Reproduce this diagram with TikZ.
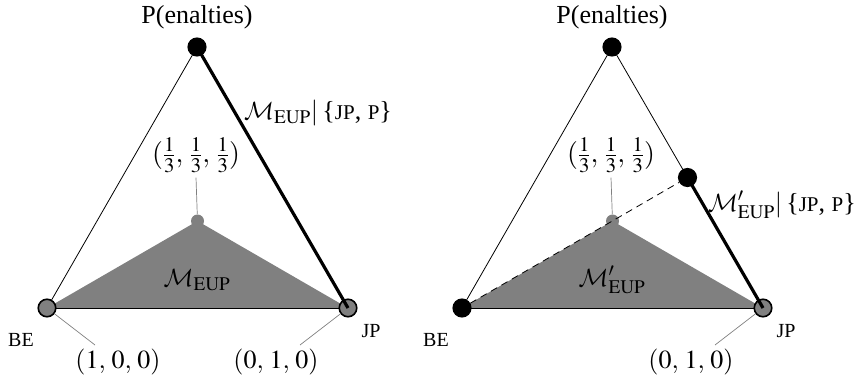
\documentclass[tikz,border=0pt]{standalone}
\usepackage{mathptmx}
\DeclareMathAlphabet{\mathcal}{OMS}{cmsy}{m}{n}
\usepackage{fontspec}
\setmainfont{Liberation Serif}
\usetikzlibrary{backgrounds}
\tikzset{
 bigdot/.style={circle,draw=black,line width=1.6pt,minimum size=17.5pt,inner sep=0pt},
 blackdot/.style={bigdot,fill=black},
 graydot/.style={bigdot,fill=gray},
 cdot/.style={circle,fill=gray,minimum size=13pt,inner sep=0pt},
 edge/.style={line width=0.8pt},
 thickedge/.style={line width=3.2pt},
 dashedge/.style={line width=0.8pt,dash pattern=on 7pt off 5pt},
 leader/.style={gray,line width=0.7pt},
 region/.style={fill=gray},
 lbl/.style={font=\fontsize{26}{30}\selectfont, inner sep=0pt},
 fraclbl/.style={font=\fontsize{28}{32}\selectfont, inner sep=0pt},
 sclbl/.style={font=\fontsize{20}{22}\selectfont, inner sep=0pt},
}
\newcommand{\smc}[1]{{\fontsize{21}{22}\selectfont #1}}
\begin{document}
\begin{tikzpicture}[x=1pt,y=-1pt]
\useasboundingbox (0,0) rectangle (858,382);
% ---------- left panel ----------
\node[blackdot] (P) at (197,47) {};
\node[graydot] (BE) at (47,308) {};
\node[graydot] (JP) at (348,308) {};
\node[cdot] (C) at (197.5,221) {};
\begin{scope}[on background layer]
 \fill[region] (BE.center) -- (C.center) -- (JP.center) -- cycle;
 \draw[edge] (BE.center) -- (P.center);
 \draw[edge] (BE.center) -- (JP.center);
\end{scope}
\draw[thickedge] (P.center) -- (JP.center);
\node[lbl] (Pl) at (197,17) {P(enalties)};
\node[fraclbl] (ct) at (196,155) {$(\frac{1}{3},\,\frac{1}{3},\,\frac{1}{3})$};
\draw[leader] ([yshift=-5pt]ct.south) -- (C);
\node[lbl] (Ml) at (197,280) {$\mathcal{M}_{\mathrm{EUP}}$};
\node[lbl,anchor=west] (Mr) at (244,113) {$\mathcal{M}_{\mathrm{EUP}}|$\,\{\smc{JP}, \smc{P}\}};
\node[sclbl] (BEl) at (21,340) {BE};
\node[sclbl] (JPl) at (371,331) {JP};
\coordinate (bel) at (95,345);
\coordinate (jpl) at (300,345);
\draw[leader] (BE) -- (bel);
\draw[leader] (JP) -- (jpl);
\node[lbl] (t100) at (118,362) {$(1,\,0,\,0)$};
\node[lbl] (t010) at (276,362) {$(0,\,1,\,0)$};
% ---------- right panel ----------
\node[blackdot] (rP) at (612,47) {};
\node[blackdot] (rBE) at (462,308) {};
\node[graydot] (rJP) at (763,308) {};
\node[cdot] (rC) at (612.5,221) {};
\node[blackdot] (rM) at (687.5,177.5) {};
\begin{scope}[on background layer]
 \fill[region] (rBE.center) -- (rC.center) -- (rJP.center) -- cycle;
 \draw[edge] (rBE.center) -- (rP.center);
 \draw[edge] (rP.center) -- (rM.center);
 \draw[edge] (rBE.center) -- (rJP.center);
\end{scope}
\draw[dashedge] (rBE) -- (rM);
\draw[thickedge] (rM.center) -- (rJP.center);
\node[lbl] (rPl) at (612,17) {P(enalties)};
\node[fraclbl] (rct) at (611,155) {$(\frac{1}{3},\,\frac{1}{3},\,\frac{1}{3})$};
\draw[leader] ([yshift=-5pt]rct.south) -- (rC);
\node[lbl] (rMl) at (612,280) {$\mathcal{M}'_{\mathrm{EUP}}$};
\node[lbl,anchor=east] (rMr) at (856,205) {$\mathcal{M}'_{\mathrm{EUP}}|$\,\{\smc{JP}, \smc{P}\}};
\node[sclbl] (rBEl) at (436,340) {BE};
\node[sclbl] (rJPl) at (786,331) {JP};
\coordinate (rjpl) at (715,345);
\draw[leader] (rJP) -- (rjpl);
\node[lbl] (rt010) at (691,362) {$(0,\,1,\,0)$};
\end{tikzpicture}
\end{document}
